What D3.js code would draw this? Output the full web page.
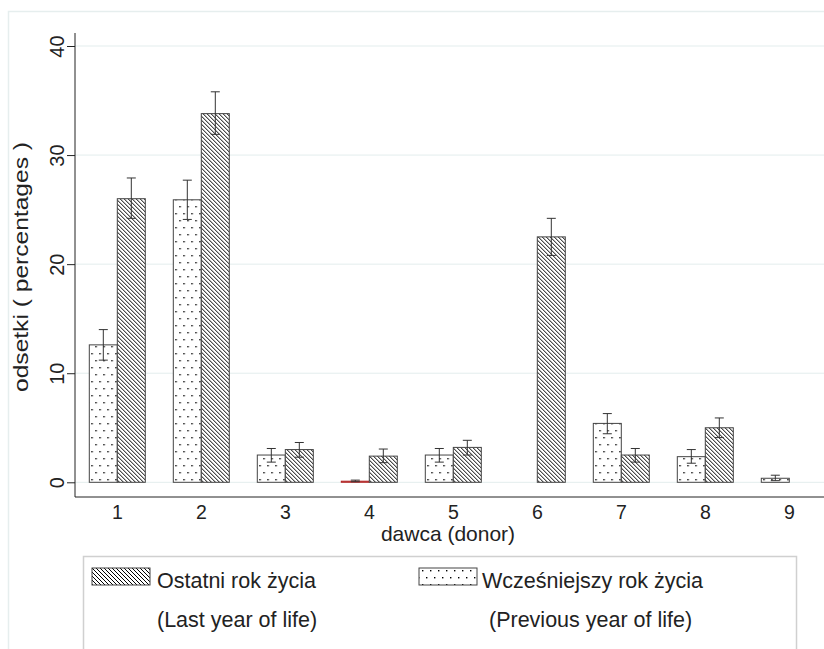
<!DOCTYPE html>
<html>
<head>
<meta charset="utf-8">
<script src="https://cdn.jsdelivr.net/npm/d3@7"></script>
<style>
  body { margin: 0; background: #fff; }
  svg { display: block; font-family: "Liberation Sans", Arial, sans-serif; }
</style>
</head>
<body>
<div id="chart"></div>
<script>
// donors on the x axis
const categories = [1, 2, 3, 4, 5, 6, 7, 8, 9];

// Wczesniejszy rok zycia (previous year of life) - dotted bars
const prevValues = [12.6, 25.9, 2.5, 0.1, 2.5, null, 5.4, 2.35, 0.37];
const prevLow    = [11.2, 24.1, 1.85, 0.05, 1.85, null, 4.45, 1.75, 0.15];
const prevHigh   = [14.0, 27.7, 3.1, 0.2, 3.1, null, 6.3, 3.0, 0.65];

// Ostatni rok zycia (last year of life) - hatched bars
const lastValues = [26.0, 33.8, 3.0, 2.4, 3.2, 22.5, 2.5, 5.0, null];
const lastLow    = [24.2, 31.9, 2.3, 1.8, 2.5, 20.8, 1.85, 4.1, null];
const lastHigh   = [27.9, 35.8, 3.65, 3.05, 3.85, 24.2, 3.1, 5.9, null];

const yTicks = [0, 10, 20, 30, 40];

const width = 824, height = 649;
const svg = d3.select('#chart').append('svg')
  .attr('width', width)
  .attr('height', height);

// patterns
const defs = svg.append('defs');
const hatch = defs.append('pattern')
  .attr('id', 'hatch')
  .attr('patternUnits', 'userSpaceOnUse')
  .attr('width', 4).attr('height', 4);
hatch.append('rect').attr('width', 4).attr('height', 4).attr('fill', '#fff');
hatch.append('path')
  .attr('d', 'M-1,-1L5,5M-1,3L1,5M3,-1L5,1')
  .attr('stroke', '#000').attr('stroke-width', 1);

const dots = defs.append('pattern')
  .attr('id', 'dots')
  .attr('patternUnits', 'userSpaceOnUse')
  .attr('width', 8).attr('height', 14);
dots.append('rect').attr('width', 8).attr('height', 14).attr('fill', '#fff');
dots.append('rect').attr('x', 2).attr('y', 3).attr('width', 1.4).attr('height', 1.4).attr('fill', '#000');
dots.append('rect').attr('x', 6).attr('y', 10).attr('width', 1.4).attr('height', 1.4).attr('fill', '#000');

// faint outer frame
svg.append('rect')
  .attr('x', 8.5).attr('y', 11.5)
  .attr('width', 830).attr('height', 700)
  .attr('fill', 'none')
  .attr('stroke', '#e6eeee')
  .attr('stroke-width', 1.5);

const x = d3.scaleBand()
  .domain(categories)
  .range([75.3, 831.3])
  .padding(0);

const sub = d3.scaleBand()
  .domain(['prev', 'last'])
  .range([x.bandwidth() / 2 - 28, x.bandwidth() / 2 + 28]);

const y = d3.scaleLinear()
  .domain([0, 40])
  .range([482.3, 46]);

// gridlines
svg.append('g').selectAll('line')
  .data(yTicks)
  .enter().append('line')
  .attr('x1', 75).attr('x2', width)
  .attr('y1', d => y(d)).attr('y2', d => y(d))
  .attr('stroke', '#e3eded')
  .attr('stroke-width', 1);

// y axis
const yAxis = svg.append('g')
  .attr('transform', 'translate(75,0)')
  .call(d3.axisLeft(y).tickValues(yTicks).tickSize(8).tickSizeOuter(0).tickFormat(d3.format('d')));
yAxis.select('.domain').remove();
yAxis.selectAll('.tick line').attr('stroke', '#222');
yAxis.selectAll('.tick text')
  .attr('x', null).attr('dy', null)
  .attr('transform', 'translate(-11,0) rotate(-90)')
  .attr('text-anchor', 'middle')
  .attr('font-size', 20)
  .attr('fill', '#222');
svg.append('line')
  .attr('x1', 75).attr('x2', 75)
  .attr('y1', 33).attr('y2', 497)
  .attr('stroke', '#222');

// x axis
svg.append('line')
  .attr('x1', 75).attr('x2', width)
  .attr('y1', 497).attr('y2', 497)
  .attr('stroke', '#222');
const xAxis = svg.append('g')
  .attr('transform', 'translate(0,497)')
  .call(d3.axisBottom(x).tickSize(0).tickPadding(0));
xAxis.select('.domain').remove();
xAxis.selectAll('.tick text')
  .attr('y', 22).attr('dy', null)
  .attr('font-size', 19.5)
  .attr('fill', '#222');

// axis titles
svg.append('text')
  .attr('x', 448).attr('y', 541)
  .attr('text-anchor', 'middle')
  .attr('font-size', 21)
  .attr('fill', '#222')
  .text('dawca (donor)');

svg.append('text')
  .attr('transform', 'translate(28,267) rotate(-90)')
  .attr('text-anchor', 'middle')
  .attr('font-size', 20)
  .attr('textLength', 250)
  .attr('lengthAdjust', 'spacingAndGlyphs')
  .attr('fill', '#222')
  .text('odsetki ( percentages )');

// bars
const series = [
  {key: 'prev', values: prevValues, low: prevLow, high: prevHigh, fill: 'url(#dots)'},
  {key: 'last', values: lastValues, low: lastLow, high: lastHigh, fill: 'url(#hatch)'}
];

const rows = [];
series.forEach(s => {
  categories.forEach((c, i) => {
    if (s.values[i] == null) return;
    rows.push({cat: c, key: s.key, v: s.values[i], lo: s.low[i], hi: s.high[i], fill: s.fill});
  });
});

const bars = svg.append('g').selectAll('g.bar')
  .data(rows)
  .enter().append('g')
  .attr('class', 'bar')
  .attr('transform', d => 'translate(' + (x(d.cat) + sub(d.key)) + ',0)');

bars.append('rect')
  .attr('x', 0)
  .attr('width', sub.bandwidth())
  .attr('y', d => y(d.v))
  .attr('height', d => y(0) - y(d.v))
  .attr('fill', d => d.fill)
  .attr('stroke', d => d.v < 0.2 ? '#b22222' : '#444')
  .attr('stroke-width', 1);

// error bars
const cap = 4.5;
const eb = bars.append('g')
  .attr('transform', 'translate(' + sub.bandwidth() / 2 + ',0)')
  .attr('stroke', '#333')
  .attr('stroke-width', 1);
eb.append('line')
  .attr('x1', 0).attr('x2', 0)
  .attr('y1', d => y(d.hi)).attr('y2', d => y(d.lo));
eb.append('line')
  .attr('x1', -cap).attr('x2', cap)
  .attr('y1', d => y(d.hi)).attr('y2', d => y(d.hi));
eb.append('line')
  .attr('x1', -cap).attr('x2', cap)
  .attr('y1', d => y(d.lo)).attr('y2', d => y(d.lo));

// legend
const legend = svg.append('g');
legend.append('rect')
  .attr('x', 83.5).attr('y', 556.5)
  .attr('width', 713).attr('height', 120)
  .attr('fill', '#fff')
  .attr('stroke', '#d0d0d0')
  .attr('stroke-width', 1.5);

const legendItems = [
  {fill: 'url(#hatch)', label: 'Ostatni rok życia', sub: '(Last year of life)', kx: 92, tx: 157, sx: 157},
  {fill: 'url(#dots)', label: 'Wcześniejszy rok życia', sub: '(Previous year of life)', kx: 419, tx: 482, sx: 489}
];

const li = legend.selectAll('g.item')
  .data(legendItems)
  .enter().append('g')
  .attr('class', 'item');
li.append('rect')
  .attr('x', d => d.kx).attr('y', 568)
  .attr('width', 58).attr('height', 17)
  .attr('fill', d => d.fill)
  .attr('stroke', '#444');
li.append('text')
  .attr('x', d => d.tx).attr('y', 588)
  .attr('font-size', 21.5)
  .attr('fill', '#222')
  .text(d => d.label);
li.append('text')
  .attr('x', d => d.sx).attr('y', 627)
  .attr('font-size', 21.5)
  .attr('fill', '#222')
  .text(d => d.sub);
</script>
</body>
</html>
